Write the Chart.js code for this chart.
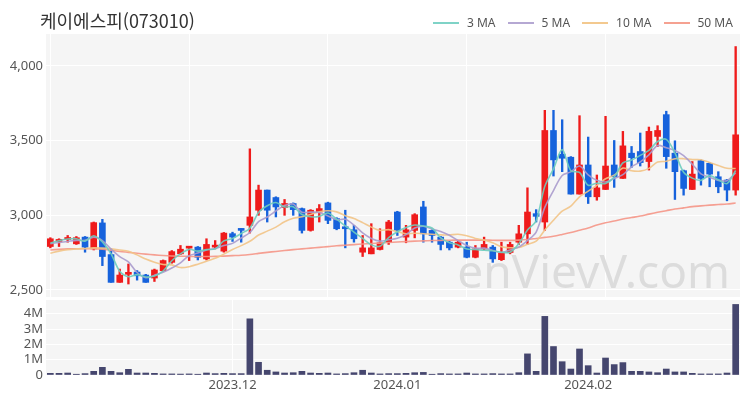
<!doctype html>
<html lang="ko">
<head>
  <meta charset="UTF-8" />
  <title>케이에스피(073010)</title>
  <script src="https://cdn.jsdelivr.net/npm/chart.js@4.4.4/dist/chart.umd.min.js"></script>
  <style>
    body {
      margin: 0;
      background: #fff;
      font-family: "Noto Sans CJK KR", "Noto Sans", sans-serif;
    }
    .wrap { position: relative; width: 750px; height: 400px; overflow: hidden; }
    .title {
      position: absolute; left: 40px; top: 7px;
      font-size: 18px; color: #333; white-space: nowrap;
    }
    .legend {
      position: absolute; left: 433px; top: 14px;
      display: flex; align-items: center;
      font-family: "Noto Sans", sans-serif; font-size: 12px; color: #555;
    }
    .legend span.item { display: flex; align-items: center; margin-right: 12px; }
    .legend i { display: inline-block; width: 26px; height: 2px; margin-right: 8px; }
    #priceBox { position: absolute; left: 0; top: 0; width: 750px; height: 300px; }
    #volBox { position: absolute; left: 0; top: 300px; width: 750px; height: 100px; }
  </style>
</head>
<body>
  <div class="wrap">
    <div id="priceBox"><canvas id="priceChart"></canvas></div>
    <div id="volBox"><canvas id="volChart"></canvas></div>
    <div class="title">케이에스피(073010)</div>
    <div class="legend">
      <span class="item"><i style="background:#7fd3c7"></i>3 MA</span>
      <span class="item"><i style="background:#b5a8d3"></i>5 MA</span>
      <span class="item"><i style="background:#f3c98f"></i>10 MA</span>
      <span class="item"><i style="background:#f5a191"></i>50 MA</span>
    </div>
  </div>

  <script>
    const dates = [
      '2023.11.02','2023.11.03','2023.11.06','2023.11.07','2023.11.08','2023.11.09','2023.11.10','2023.11.13','2023.11.14','2023.11.15',
      '2023.11.16','2023.11.17','2023.11.20','2023.11.21','2023.11.22','2023.11.23','2023.11.24','2023.11.27','2023.11.28','2023.11.29',
      '2023.11.30','2023.12.01','2023.12.04','2023.12.05','2023.12.06','2023.12.07','2023.12.08','2023.12.11','2023.12.12','2023.12.13',
      '2023.12.14','2023.12.15','2023.12.18','2023.12.19','2023.12.20','2023.12.21','2023.12.22','2023.12.26','2023.12.27','2023.12.28',
      '2024.01.02','2024.01.03','2024.01.04','2024.01.05','2024.01.08','2024.01.09','2024.01.10','2024.01.11','2024.01.12','2024.01.15',
      '2024.01.16','2024.01.17','2024.01.18','2024.01.19','2024.01.22','2024.01.23','2024.01.24','2024.01.25','2024.01.26','2024.01.29',
      '2024.01.30','2024.01.31','2024.02.01','2024.02.02','2024.02.05','2024.02.06','2024.02.07','2024.02.08','2024.02.13','2024.02.14',
      '2024.02.15','2024.02.16','2024.02.19','2024.02.20','2024.02.21','2024.02.22','2024.02.23','2024.02.26','2024.02.27','2024.02.28'
    ];
    const monthTicks = ['2023.12', '2024.01', '2024.02'];
    const priceTicks = [2500, 3000, 3500, 4000];
    const volumeTicks = [0, 1000000, 2000000, 3000000, 4000000];

    const opens = [
      2791,2825,2838,2809,2854,2775,2949,2737,2551,2605,
      2620,2600,2580,2629,2685,2742,2780,2787,2708,2787,
      2760,2877,2910,2933,3034,3169,3119,3052,3079,3045,
      2899,3022,3083,2978,2921,2903,2753,2742,2771,2820,
      3022,2854,2899,3056,2899,2854,2820,2787,2787,2719,
      2775,2787,2703,2751,2820,2876,3011,2955,3568,3409,
      3389,3142,3337,3124,3173,3337,3247,3416,3427,3360,
      3528,3674,3416,3299,3173,3366,3348,3258,3236,3169
    ];
    const highs = [
      2850,2843,2865,2858,2858,2955,2973,2775,2640,2674,
      2630,2605,2640,2701,2764,2798,2787,2791,2843,2831,
      2885,2887,2910,3445,3202,3169,3124,3106,3083,3049,
      3038,3072,3088,2984,3034,2933,2865,2944,2910,2966,
      3027,2933,3011,3094,2903,2858,2825,2831,2820,2798,
      2854,2798,2820,2820,2933,3184,3038,3703,3703,3640,
      3393,3667,3524,3270,3663,3501,3562,3461,3551,3591,
      3600,3697,3499,3303,3360,3371,3353,3292,3240,4130
    ];
    const lows = [
      2782,2791,2820,2805,2753,2768,2663,2551,2551,2540,
      2566,2551,2557,2625,2679,2737,2697,2701,2701,2775,
      2753,2825,2820,2881,3000,2955,2989,3000,3000,2881,
      2894,2955,2944,2903,2782,2820,2724,2742,2768,2805,
      2865,2816,2849,2820,2820,2768,2768,2782,2715,2715,
      2771,2685,2697,2742,2805,2805,2955,2899,3263,3292,
      3142,3142,3079,3101,3173,3187,3247,3321,3330,3303,
      3461,3315,3106,3135,3173,3202,3191,3151,3097,3135
    ];
    const closes = [
      2843,2835,2845,2850,2787,2951,2724,2551,2600,2615,
      2595,2551,2634,2697,2757,2773,2787,2719,2805,2800,
      2881,2854,2899,2989,3169,3034,3056,3079,3038,2899,
      3034,3045,2966,2910,2910,2843,2782,2782,2816,2955,
      2899,2903,3004,2876,2865,2805,2782,2820,2719,2775,
      2805,2708,2746,2805,2876,3022,2993,3568,3371,3382,
      3142,3337,3124,3184,3330,3258,3465,3386,3353,3562,
      3568,3393,3292,3180,3276,3247,3276,3191,3169,3539
    ];
    const volumes = [
      110000,110000,130000,50000,90000,240000,500000,240000,150000,370000,
      130000,130000,110000,70000,70000,60000,70000,50000,130000,90000,
      110000,90000,90000,3670000,830000,310000,200000,130000,150000,240000,
      130000,110000,130000,70000,90000,150000,310000,130000,70000,90000,
      90000,110000,150000,170000,50000,90000,70000,70000,130000,70000,
      70000,90000,70000,70000,150000,1380000,240000,3830000,1860000,870000,
      390000,1700000,610000,130000,1110000,680000,810000,240000,240000,200000,
      150000,390000,200000,200000,110000,70000,70000,70000,130000,4610000
    ];

    const ma3 = [
      2815,2830,2841,2843,2827,2863,2821,2742,2625,2589,
      2603,2587,2593,2627,2696,2742,2772,2760,2770,2775,
      2829,2845,2878,2914,3019,3064,3086,3056,3058,3005,
      2990,2993,3015,2974,2929,2888,2845,2802,2793,2851,
      2890,2919,2935,2928,2915,2849,2817,2802,2774,2771,
      2766,2763,2753,2753,2809,2901,2964,3194,3311,3440,
      3298,3287,3201,3215,3213,3257,3351,3370,3401,3434,
      3494,3508,3418,3288,3249,3234,3266,3238,3212,3300
    ];
    const ma5 = [
      2810,2818,2825,2832,2832,2854,2831,2773,2723,2688,
      2617,2582,2599,2618,2647,2682,2730,2747,2768,2777,
      2798,2812,2848,2885,2958,2989,3029,3065,3075,3021,
      3021,3019,2996,2971,2973,2935,2882,2845,2827,2836,
      2847,2871,2915,2927,2909,2891,2866,2830,2798,2780,
      2780,2765,2751,2768,2788,2831,2888,3053,3166,3267,
      3291,3330,3271,3234,3223,3247,3272,3325,3358,3405,
      3467,3452,3434,3399,3342,3278,3254,3234,3232,3284
    ];
    const ma10 = [
      2746,2760,2770,2775,2778,2782,2780,2775,2768,2760,
      2735,2707,2686,2671,2668,2650,2656,2673,2693,2712,
      2740,2771,2797,2826,2868,2894,2921,2957,2980,2990,
      3005,3024,3031,3023,2997,2978,2951,2921,2899,2904,
      2891,2877,2880,2877,2873,2869,2869,2873,2863,2845,
      2835,2816,2790,2783,2784,2806,2827,2902,2967,3028,
      3061,3124,3162,3200,3245,3269,3316,3298,3296,3314,
      3357,3362,3379,3379,3373,3372,3353,3334,3315,3313
    ];
    const ma50 = [
      2768,2772,2775,2776,2776,2776,2773,2766,2758,2752,
      2746,2740,2735,2731,2728,2726,2725,2724,2724,2725,
      2727,2730,2733,2738,2745,2752,2758,2764,2770,2775,
      2780,2785,2790,2796,2800,2804,2808,2811,2814,2818,
      2821,2824,2827,2829,2831,2832,2833,2834,2834,2834,
      2834,2833,2832,2832,2834,2838,2845,2852,2860,2872,
      2885,2900,2915,2935,2950,2962,2975,2985,2995,3008,
      3020,3031,3042,3050,3058,3063,3068,3072,3076,3082
    ];

    const UP = '#ef1b1b';
    const DOWN = '#1662dc';
    const PLOT_BG = '#f5f5f5';
    const GRID = '#ffffff';
    const NONE = 'rgba(0,0,0,0)';
    const TICK_FONT = { family: '"Noto Sans", sans-serif', size: 13 };
    const candleColors = opens.map((o, i) => (closes[i] >= o ? UP : DOWN));

    const panelBg = {
      id: 'panelBg',
      beforeDraw(chart) {
        const { ctx, chartArea: a } = chart;
        ctx.save();
        ctx.fillStyle = PLOT_BG;
        ctx.fillRect(a.left, a.top, a.right - a.left, a.bottom - a.top);
        ctx.restore();
      },
      beforeDatasetsDraw(chart, args, opts) {
        if (!opts.watermark) return;
        const { ctx, chartArea: a } = chart;
        ctx.save();
        ctx.fillStyle = '#dcdcdc';
        ctx.font = '46px "Noto Sans", sans-serif';
        ctx.textAlign = 'right';
        ctx.textBaseline = 'alphabetic';
        ctx.fillText(opts.watermark, a.right - 10, a.bottom - 9);
        ctx.restore();
      }
    };

    function fixWidth(scale) {
      scale.width = 46;
      scale.paddingTop = 0;
      scale.paddingBottom = 0;
    }

    // y axis: ticks placed exactly on the listed values
    function yAxis(min, max, shown, fmt) {
      return {
        min,
        max,
        grid: { drawTicks: false, lineWidth: 1, color: GRID },
        border: { display: false },
        ticks: {
          autoSkip: false,
          padding: 3,
          color: '#555',
          font: TICK_FONT,
          callback: (v) => fmt(v)
        },
        afterBuildTicks: (s) => { s.ticks = shown.map((v) => ({ value: v })); },
        afterFit: fixWidth
      };
    }

    const xGrid = {
      offset: false,
      drawTicks: false,
      color: (c) => (c.index % 16 === 0 ? GRID : NONE),
      lineWidth: 1
    };

    function maLine(label, data, color, order) {
      return {
        type: 'line',
        label,
        data,
        borderColor: color,
        borderWidth: 1.6,
        pointRadius: 0,
        tension: 0.3,
        order
      };
    }

    new Chart(document.getElementById('priceChart'), {
      type: 'bar',
      data: {
        labels: dates,
        datasets: [
          maLine('3 MA', ma3, 'rgba(110,205,190,0.9)', 1),
          maLine('5 MA', ma5, 'rgba(170,155,205,0.9)', 2),
          maLine('10 MA', ma10, 'rgba(242,196,135,0.9)', 3),
          maLine('50 MA', ma50, 'rgba(245,150,135,0.9)', 4),
          {
            label: 'body',
            data: opens.map((o, i) => [o, closes[i]]),
            backgroundColor: candleColors,
            barThickness: 6,
            minBarLength: 2,
            grouped: false,
            order: 5
          },
          {
            label: 'wick',
            data: lows.map((l, i) => [l, highs[i]]),
            backgroundColor: candleColors,
            barThickness: 1.7,
            grouped: false,
            order: 6
          }
        ]
      },
      options: {
        responsive: true,
        maintainAspectRatio: false,
        animation: false,
        layout: { padding: { top: 34, right: 10, bottom: 3, left: 0 } },
        plugins: {
          legend: { display: false },
          tooltip: { enabled: false },
          panelBg: { watermark: 'enVievV.com' }
        },
        scales: {
          x: {
            offset: true,
            grid: xGrid,
            border: { display: false },
            ticks: { display: false, autoSkip: false },
            afterFit: (s) => { s.height = 0; }
          },
          y: yAxis(2453, 4214, priceTicks, (v) => v.toLocaleString('en-US'))
        }
      },
      plugins: [panelBg]
    });

    new Chart(document.getElementById('volChart'), {
      type: 'bar',
      data: {
        labels: dates,
        datasets: [{
          label: 'Volume',
          data: volumes,
          backgroundColor: '#45466e',
          barThickness: 6
        }]
      },
      options: {
        responsive: true,
        maintainAspectRatio: false,
        animation: false,
        layout: { padding: { top: 0, right: 10, bottom: 0, left: 0 } },
        plugins: {
          legend: { display: false },
          tooltip: { enabled: false }
        },
        scales: {
          x: {
            offset: true,
            grid: xGrid,
            border: { display: false },
            ticks: {
              autoSkip: false,
              maxRotation: 0,
              padding: 2,
              color: '#555',
              font: TICK_FONT,
              callback: function (v, i) {
                const m = dates[i].slice(0, 7);
                const prev = i > 0 ? dates[i - 1].slice(0, 7) : m;
                return (m !== prev && monthTicks.includes(m)) ? m : null;
              }
            },
            afterFit: (s) => { s.height = 25; }
          },
          y: yAxis(0, 4900000, volumeTicks, (v) => (v === 0 ? '0' : (v / 1000000) + 'M'))
        }
      },
      plugins: [panelBg]
    });
  </script>
</body>
</html>
